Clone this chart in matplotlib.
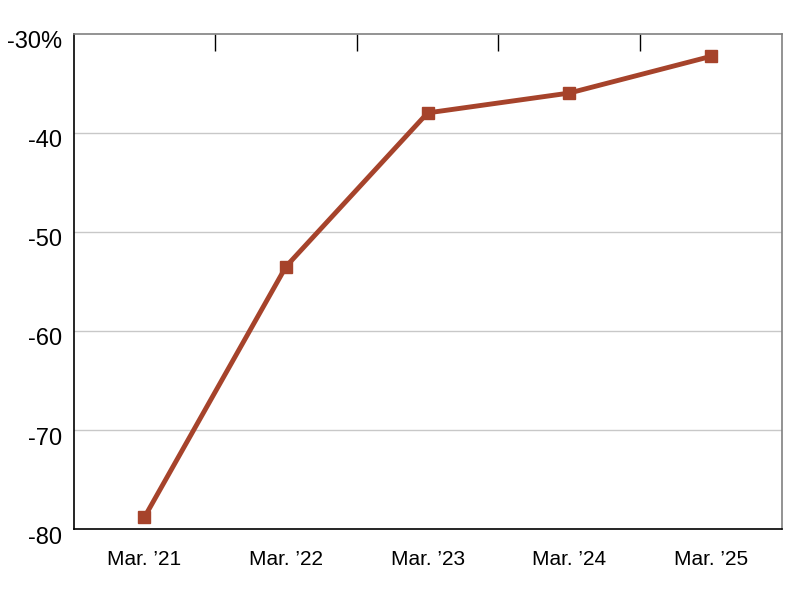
import matplotlib
matplotlib.use("Agg")

import matplotlib.pyplot as plt
import matplotlib.transforms as mtransforms
from matplotlib.ticker import FixedLocator

plt.rcParams["font.family"] = ["Liberation Sans", "DejaVu Sans"]

# 数据
categories = ["Mar. \u201921", "Mar. \u201922", "Mar. \u201923", "Mar. \u201924", "Mar. \u201925"]
values = [-78.8, -53.5, -38.0, -36.0, -32.3]
y_ticks = [-80, -70, -60, -50, -40, -30]
y_labels = ["-80", "-70", "-60", "-50", "-40", "-30%"]

LINE_COLOR = "#A6432B"

fig = plt.figure(figsize=(8, 6), dpi=100)
ax = fig.add_axes([0.092, 0.118, 0.885, 0.826])

x = list(range(len(categories)))
ax.plot(x, values, color=LINE_COLOR, linewidth=3.5, marker="s",
        markersize=9, zorder=3, clip_on=False)

ax.set_xlim(-0.5, len(categories) - 0.5)
ax.set_ylim(-80, -30)

ax.set_xticks(x)
ax.set_xticklabels(categories, fontsize=15)
ax.set_yticks(y_ticks)
ax.set_yticklabels(y_labels, fontsize=17)
ax.tick_params(axis="x", length=0, pad=15)
ax.tick_params(axis="y", length=0, pad=8)

# y 标签略微下移
offset = mtransforms.ScaledTranslation(0, -6 / 100, fig.dpi_scale_trans)
for lbl in ax.get_yticklabels():
    lbl.set_transform(lbl.get_transform() + offset)

# 顶部分隔刻度
ax_top = ax.secondary_xaxis("top")
ax_top.xaxis.set_major_locator(FixedLocator([i + 0.5 for i in range(len(categories) - 1)]))
ax_top.tick_params(axis="x", direction="in", length=12, width=1, color="black", labeltop=False)
ax_top.spines["top"].set_visible(False)

# 网格
for yv in y_ticks[1:-1]:
    ax.axhline(yv, color="#c8c8c8", linewidth=1, zorder=1)

ax.spines["left"].set_color("black")
ax.spines["bottom"].set_color("black")
ax.spines["top"].set_color("#808080")
ax.spines["right"].set_color("#808080")
for s in ax.spines.values():
    s.set_linewidth(1.2)

fig.savefig("out.png", dpi=100, facecolor="white")
